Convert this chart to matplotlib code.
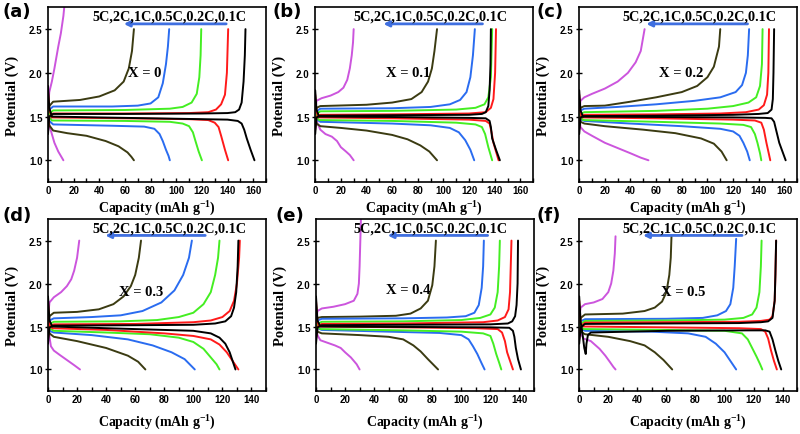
import matplotlib
matplotlib.use("Agg")
import matplotlib.pyplot as plt
from matplotlib.ticker import MultipleLocator

plt.rcParams["mathtext.fontset"] = "custom"
plt.rcParams["mathtext.rm"] = "Liberation Serif:bold"
plt.rcParams["mathtext.bf"] = "Liberation Serif:bold"

# C-rates, one curve pair per rate (order: 0.1C, 0.2C, 0.5C, 1C, 2C, 5C)
rates = ["0.1C", "0.2C", "0.5C", "1C", "2C", "5C"]
rate_text = "5C,2C,1C,0.5C,0.2C,0.1C"
x_values = ["X = 0", "X = 0.1", "X = 0.2", "X = 0.3", "X = 0.4", "X = 0.5"]
panel_tags = ["(a)", "(b)", "(c)", "(d)", "(e)", "(f)"]

# (capacity mAh/g, potential V) points
chg_a = [
    [(0, 1.30), (1, 1.50), (4, 1.53), (60, 1.53), (120, 1.535), (140, 1.54), (146, 1.55), (149, 1.58), (151, 1.66), (152.5, 1.9), (153.5, 2.2), (154, 2.5)],
    [(0, 1.35), (1, 1.50), (4, 1.535), (60, 1.535), (110, 1.54), (125, 1.55), (131, 1.58), (135, 1.64), (138, 1.75), (139.5, 2.0), (140.5, 2.5)],
    [(0, 1.40), (1, 1.53), (4, 1.57), (60, 1.575), (95, 1.59), (105, 1.61), (112, 1.66), (116, 1.76), (118, 1.95), (119, 2.2), (119.5, 2.5)],
    [(0, 1.45), (1, 1.58), (4, 1.615), (50, 1.615), (70, 1.625), (80, 1.65), (86, 1.72), (89.5, 1.88), (92, 2.1), (93.5, 2.3), (94.5, 2.5)],
    [(0, 1.50), (1, 1.62), (4, 1.67), (25, 1.69), (40, 1.73), (52, 1.80), (59, 1.9), (63, 2.05), (65.5, 2.25), (67, 2.5)],
    [(0, 1.60), (1, 1.78), (3, 1.9), (5, 2.05), (8, 2.3), (10, 2.45), (12, 2.65), (13, 2.8)],
]
dis_a = [
    [(0, 1.85), (1, 1.6), (3, 1.50), (40, 1.49), (100, 1.475), (140, 1.465), (148, 1.45), (151, 1.42), (153, 1.35), (155, 1.25), (158, 1.12), (161, 1.0)],
    [(0, 1.80), (1, 1.58), (3, 1.49), (60, 1.48), (110, 1.47), (125, 1.46), (130, 1.43), (133, 1.38), (135, 1.28), (138, 1.12), (140.5, 1.0)],
    [(0, 1.75), (1, 1.5), (3, 1.455), (60, 1.45), (95, 1.44), (105, 1.42), (110, 1.39), (113, 1.32), (115, 1.22), (117.5, 1.1), (120, 1.0)],
    [(0, 1.70), (1, 1.45), (4, 1.41), (50, 1.395), (75, 1.385), (83, 1.36), (87, 1.30), (89.5, 1.22), (92, 1.12), (94, 1.05), (95, 1.0)],
    [(0, 1.65), (1, 1.40), (4, 1.34), (15, 1.31), (30, 1.28), (45, 1.22), (55, 1.16), (62, 1.09), (65, 1.04), (67, 1.0)],
    [(0, 1.55), (1, 1.40), (3, 1.30), (5, 1.20), (8, 1.10), (10, 1.05), (12, 1.0)],
]

chg_b = [
    [(0, 1.30), (1, 1.49), (4, 1.51), (60, 1.515), (120, 1.52), (130, 1.53), (133, 1.55), (135, 1.62), (136, 1.8), (136.7, 2.1), (137, 2.5)],
    [(0, 1.35), (1, 1.50), (4, 1.52), (60, 1.525), (120, 1.535), (133, 1.55), (137, 1.6), (139, 1.7), (140.3, 2.0), (141, 2.5)],
    [(0, 1.40), (1, 1.53), (4, 1.56), (60, 1.565), (110, 1.58), (125, 1.6), (132, 1.64), (135, 1.72), (137, 1.95), (138, 2.5)],
    [(0, 1.45), (1, 1.56), (4, 1.59), (60, 1.595), (90, 1.61), (105, 1.64), (113, 1.69), (118, 1.78), (121, 1.95), (123, 2.2), (124.5, 2.5)],
    [(0, 1.50), (1, 1.6), (4, 1.62), (40, 1.635), (60, 1.66), (75, 1.70), (83, 1.78), (88, 1.9), (91, 2.05), (93, 2.25), (95, 2.5)],
    [(0, 1.55), (1, 1.68), (5, 1.71), (12, 1.74), (18, 1.78), (22, 1.83), (25, 1.92), (27, 2.05), (28.5, 2.2), (29.5, 2.35), (30, 2.5)],
]
dis_b = [
    [(0, 1.80), (1, 1.58), (3, 1.5), (60, 1.495), (120, 1.485), (133, 1.48), (136, 1.45), (137, 1.38), (138, 1.25), (141, 1.12), (144, 1.0)],
    [(0, 1.75), (1, 1.55), (3, 1.49), (60, 1.48), (120, 1.465), (133, 1.45), (136, 1.42), (137.5, 1.32), (139, 1.2), (143, 1.0)],
    [(0, 1.70), (1, 1.5), (3, 1.46), (60, 1.45), (110, 1.43), (125, 1.41), (130, 1.38), (132.5, 1.3), (135, 1.15), (138, 1.0)],
    [(0, 1.65), (1, 1.47), (4, 1.44), (60, 1.42), (90, 1.40), (105, 1.37), (112, 1.32), (117, 1.23), (121, 1.12), (124, 1.0)],
    [(0, 1.60), (1, 1.42), (4, 1.39), (20, 1.37), (40, 1.34), (60, 1.29), (72, 1.24), (82, 1.17), (89, 1.10), (95, 1.0)],
    [(0, 1.60), (1, 1.45), (4, 1.35), (8, 1.30), (13, 1.27), (17, 1.22), (20, 1.15), (24, 1.10), (27, 1.06), (30, 1.0)],
]

chg_c = [
    [(0, 1.30), (1, 1.49), (4, 1.505), (60, 1.51), (120, 1.52), (140, 1.53), (147, 1.54), (150, 1.58), (151, 1.7), (151.5, 2.0), (152, 2.5)],
    [(0, 1.35), (1, 1.5), (4, 1.52), (60, 1.525), (110, 1.535), (130, 1.55), (140, 1.58), (144, 1.63), (146.5, 1.75), (147.5, 2.0), (148, 2.5)],
    [(0, 1.40), (1, 1.53), (4, 1.55), (60, 1.565), (100, 1.59), (120, 1.62), (132, 1.66), (138, 1.72), (141, 1.85), (142.5, 2.1), (143, 2.5)],
    [(0, 1.45), (1, 1.57), (4, 1.59), (30, 1.61), (60, 1.64), (90, 1.68), (110, 1.72), (122, 1.78), (127, 1.86), (130, 2.0), (131.5, 2.2), (132.5, 2.5)],
    [(0, 1.50), (1, 1.6), (4, 1.62), (20, 1.625), (40, 1.67), (60, 1.72), (80, 1.78), (92, 1.85), (100, 1.95), (105, 2.07), (109, 2.3), (110, 2.5)],
    [(0, 1.55), (1, 1.68), (4, 1.72), (10, 1.76), (20, 1.82), (30, 1.90), (38, 2.0), (44, 2.12), (48, 2.25), (51, 2.5)],
]
dis_c = [
    [(0, 1.80), (1, 1.57), (3, 1.5), (60, 1.495), (120, 1.49), (145, 1.485), (150, 1.48), (152, 1.44), (154, 1.32), (156, 1.2), (158.5, 1.1), (161, 1.0)],
    [(0, 1.75), (1, 1.53), (3, 1.49), (60, 1.48), (120, 1.465), (137, 1.455), (142, 1.43), (144, 1.35), (146, 1.2), (147.5, 1.1), (149, 1.0)],
    [(0, 1.70), (1, 1.5), (3, 1.46), (60, 1.44), (110, 1.42), (128, 1.405), (134, 1.38), (137, 1.30), (139, 1.2), (141, 1.08), (142, 1.0)],
    [(0, 1.65), (1, 1.47), (4, 1.45), (40, 1.42), (80, 1.39), (110, 1.36), (120, 1.33), (125, 1.28), (128, 1.2), (131, 1.1), (133, 1.0)],
    [(0, 1.60), (1, 1.44), (4, 1.42), (20, 1.39), (50, 1.35), (75, 1.31), (95, 1.25), (105, 1.19), (111, 1.1), (115, 1.0)],
    [(0, 1.50), (1, 1.38), (4, 1.33), (10, 1.28), (20, 1.20), (30, 1.14), (40, 1.08), (48, 1.03), (54, 1.0)],
]

chg_d = [
    [(0, 1.30), (1, 1.49), (4, 1.51), (60, 1.515), (100, 1.52), (115, 1.535), (122, 1.56), (126, 1.62), (128, 1.72), (129.5, 1.9), (130.5, 2.2), (131, 2.5)],
    [(0, 1.35), (1, 1.5), (4, 1.525), (60, 1.53), (100, 1.55), (112, 1.57), (120, 1.61), (125, 1.68), (128, 1.8), (130, 2.0), (131.5, 2.3), (132, 2.5)],
    [(0, 1.40), (1, 1.53), (4, 1.555), (50, 1.56), (75, 1.575), (90, 1.61), (100, 1.66), (107, 1.76), (112, 1.9), (115, 2.1), (117, 2.3), (118, 2.5)],
    [(0, 1.45), (1, 1.57), (4, 1.595), (30, 1.61), (50, 1.63), (65, 1.68), (78, 1.78), (87, 1.92), (93, 2.1), (97, 2.3), (99, 2.5)],
    [(0, 1.50), (1, 1.62), (4, 1.66), (20, 1.67), (35, 1.7), (45, 1.76), (52, 1.85), (57, 1.97), (60, 2.1), (62.5, 2.3), (64, 2.5)],
    [(0, 1.60), (1, 1.78), (4, 1.84), (9, 1.9), (13, 1.97), (16, 2.05), (18, 2.15), (20, 2.3), (21.5, 2.5)],
]
dis_d = [
    [(0, 1.85), (1, 1.57), (3, 1.5), (40, 1.48), (80, 1.46), (100, 1.45), (112, 1.42), (118, 1.37), (122, 1.3), (125, 1.2), (127, 1.1), (129, 1.0)],
    [(0, 1.80), (1, 1.52), (3, 1.48), (40, 1.46), (80, 1.42), (100, 1.39), (112, 1.35), (118, 1.29), (123, 1.2), (127, 1.1), (131, 1.0)],
    [(0, 1.75), (1, 1.48), (4, 1.45), (40, 1.43), (70, 1.41), (90, 1.37), (100, 1.32), (107, 1.24), (112, 1.14), (116, 1.06), (118, 1.0)],
    [(0, 1.70), (1, 1.45), (4, 1.43), (30, 1.40), (55, 1.35), (72, 1.28), (85, 1.2), (94, 1.12), (101, 1.0)],
    [(0, 1.65), (1, 1.42), (4, 1.38), (20, 1.33), (40, 1.25), (55, 1.16), (62, 1.09), (67, 1.0)],
    [(0, 1.60), (1, 1.38), (2, 1.27), (4, 1.22), (8, 1.17), (13, 1.11), (18, 1.05), (22, 1.0)],
]

chg_e = [
    [(0, 1.30), (1, 1.49), (4, 1.515), (60, 1.52), (120, 1.525), (132, 1.535), (135, 1.56), (137, 1.62), (138, 1.75), (138.7, 2.0), (139, 2.5)],
    [(0, 1.35), (1, 1.5), (4, 1.53), (60, 1.535), (115, 1.55), (125, 1.57), (130, 1.61), (132.5, 1.7), (133.5, 1.9), (134, 2.2), (134.5, 2.5)],
    [(0, 1.40), (1, 1.53), (4, 1.555), (60, 1.56), (100, 1.575), (113, 1.6), (120, 1.64), (123, 1.72), (125, 1.9), (126, 2.2), (126.5, 2.5)],
    [(0, 1.45), (1, 1.57), (4, 1.59), (60, 1.595), (90, 1.605), (103, 1.62), (109, 1.66), (112, 1.75), (114, 1.95), (115, 2.2), (115.5, 2.5)],
    [(0, 1.50), (1, 1.6), (4, 1.61), (30, 1.615), (55, 1.625), (65, 1.65), (72, 1.71), (77, 1.8), (80, 1.98), (81.5, 2.2), (82.5, 2.5)],
    [(0, 1.55), (1, 1.68), (4, 1.71), (12, 1.73), (20, 1.76), (26, 1.80), (28.5, 1.88), (29.5, 2.0), (30, 2.2), (30.5, 2.5), (31, 2.8)],
]
dis_e = [
    [(0, 1.85), (1, 1.57), (3, 1.5), (60, 1.495), (120, 1.49), (133, 1.485), (135.5, 1.45), (136.5, 1.38), (137.5, 1.25), (139, 1.12), (141, 1.0)],
    [(0, 1.80), (1, 1.54), (3, 1.5), (60, 1.49), (110, 1.48), (125, 1.47), (128, 1.43), (130, 1.33), (131.5, 1.2), (133.5, 1.1), (135.5, 1.0)],
    [(0, 1.75), (1, 1.5), (3, 1.47), (60, 1.455), (100, 1.44), (115, 1.42), (120, 1.39), (122, 1.3), (124, 1.18), (126, 1.08), (127.5, 1.0)],
    [(0, 1.70), (1, 1.48), (4, 1.46), (50, 1.44), (85, 1.425), (100, 1.40), (105, 1.35), (108, 1.27), (111, 1.18), (114, 1.07), (116, 1.0)],
    [(0, 1.60), (1, 1.44), (4, 1.42), (30, 1.40), (50, 1.38), (60, 1.35), (67, 1.28), (72, 1.21), (77, 1.12), (84, 1.0)],
    [(0, 1.55), (1, 1.40), (3, 1.34), (8, 1.31), (13, 1.28), (17, 1.25), (20, 1.2), (24, 1.14), (28, 1.06), (30, 1.0)],
]

chg_f = [
    [(0, 1.30), (1, 1.49), (4, 1.53), (60, 1.535), (110, 1.54), (125, 1.55), (130, 1.56), (133, 1.6), (134.5, 1.8), (135, 2.1), (135.5, 2.5)],
    [(0, 1.35), (1, 1.5), (4, 1.545), (60, 1.55), (110, 1.555), (125, 1.565), (131, 1.58), (133, 1.62), (134.5, 1.8), (135, 2.1), (135.5, 2.5)],
    [(0, 1.40), (1, 1.53), (4, 1.565), (60, 1.57), (100, 1.58), (113, 1.6), (119, 1.64), (122, 1.72), (124, 1.9), (125, 2.2), (125.5, 2.5)],
    [(0, 1.45), (1, 1.56), (4, 1.585), (60, 1.59), (85, 1.60), (95, 1.63), (101, 1.68), (104, 1.76), (106, 1.95), (107, 2.2), (108, 2.52)],
    [(0, 1.50), (1, 1.6), (4, 1.64), (30, 1.65), (45, 1.68), (52, 1.72), (57, 1.79), (60, 1.9), (62, 2.1), (63, 2.3), (63.5, 2.55)],
    [(0, 1.60), (1, 1.72), (4, 1.76), (10, 1.78), (16, 1.82), (20, 1.9), (22, 2.0), (23.5, 2.15), (24.5, 2.35), (25, 2.55)],
]
dis_f = [
    [(0, 1.85), (1, 1.55), (2, 1.45), (3.5, 1.25), (4.5, 1.18), (5, 1.3), (6, 1.40), (8, 1.43), (60, 1.45), (115, 1.455), (128, 1.455), (131, 1.44), (133, 1.35), (135, 1.22), (137, 1.1), (139, 1.0)],
    [(0, 1.80), (1, 1.53), (3, 1.5), (60, 1.49), (110, 1.48), (125, 1.47), (128, 1.44), (130, 1.36), (132, 1.22), (134, 1.1), (136, 1.0)],
    [(0, 1.75), (1, 1.5), (3, 1.47), (60, 1.46), (100, 1.45), (112, 1.42), (116, 1.35), (119, 1.25), (122, 1.15), (124.5, 1.06), (126, 1.0)],
    [(0, 1.70), (1, 1.48), (4, 1.45), (50, 1.44), (75, 1.42), (87, 1.38), (94, 1.3), (100, 1.2), (104, 1.1), (108, 1.0)],
    [(0, 1.60), (1, 1.44), (4, 1.41), (20, 1.38), (35, 1.33), (45, 1.28), (52, 1.2), (58, 1.11), (64, 1.0)],
    [(0, 1.55), (1, 1.42), (3, 1.36), (8, 1.33), (14, 1.24), (18, 1.16), (21, 1.09), (23.5, 1.03), (25, 1.0)],
]

# colours per rate (0.1C ... 5C)
colors = ["#000000", "#ff1a1a", "#44ee22", "#2a6cf0", "#3b3b12", "#cc55dd"]
arrow_blue = "#3f6fe0"
serif = ["Liberation Serif", "DejaVu Serif"]

fig = plt.figure(figsize=(8, 4.35), dpi=100)

# axes boxes in figure fraction: left, bottom, width, height
boxes = [
    (0.060, 0.579, 0.2725, 0.402),
    (0.394, 0.579, 0.2725, 0.402),
    (0.724, 0.579, 0.2725, 0.402),
    (0.060, 0.099, 0.2725, 0.395),
    (0.395, 0.099, 0.2725, 0.395),
    (0.724, 0.099, 0.2725, 0.395),
]
charges = [chg_a, chg_b, chg_c, chg_d, chg_e, chg_f]
discharges = [dis_a, dis_b, dis_c, dis_d, dis_e, dis_f]
xmax = [170, 170, 170, 150, 150, 150]
# where the "X = .." label sits (data coords)
x_label_pos = [(62, 2.0), (55, 2.0), (62, 2.0), (49, 1.91), (48, 1.93), (56, 1.91)]
# rate text left edge and arrow (tail, head) in axes fraction
rate_text_x = [0.206, 0.174, 0.200, 0.206, 0.170, 0.200]
arrow_span = [(0.83, 0.335), (0.78, 0.30), (0.785, 0.295), (0.734, 0.25), (0.80, 0.316), (0.76, 0.28)]
tag_pos = [(0.003, 0.992), (0.341, 0.992), (0.671, 0.992), (0.003, 0.525), (0.344, 0.525), (0.671, 0.525)]

for i in range(6):
    ax = fig.add_axes(boxes[i])
    # draw 5C first so the 0.1C curve ends up on top
    for k in range(5, -1, -1):
        for pts in (charges[i][k], discharges[i][k]):
            cap = [p[0] for p in pts]
            volt = [p[1] for p in pts]
            ax.plot(cap, volt, color=colors[k], lw=1.4, solid_capstyle="round")

    ax.set_xlim(0, xmax[i])
    ax.set_ylim(0.75, 2.75)
    ax.xaxis.set_major_locator(MultipleLocator(20))
    ax.xaxis.set_minor_locator(MultipleLocator(10))
    ax.yaxis.set_major_locator(MultipleLocator(0.5))
    ax.tick_params(axis="x", which="both", direction="in", length=3, width=1, pad=2)
    ax.tick_params(axis="y", which="major", direction="inout", length=4, width=1, pad=2)
    for lbl in ax.get_xticklabels() + ax.get_yticklabels():
        lbl.set_fontfamily("Liberation Sans")
        lbl.set_fontweight("bold")
        lbl.set_fontsize(7)
    for sp in ax.spines.values():
        sp.set_linewidth(1.2)

    ax.set_xlabel("Capacity (mAh g$^{-1}$)", family=serif, fontweight="bold", fontsize=10)
    ax.set_ylabel("Potential (V)", family=serif, fontweight="bold", fontsize=10.5)
    ax.yaxis.set_label_coords(-0.135, 0.5)
    ax.xaxis.set_label_coords(0.5, -0.085 if i < 3 else -0.115)

    ax.text(x_label_pos[i][0], x_label_pos[i][1], x_values[i], family=serif,
            fontweight="bold", fontsize=10.5, va="center", ha="left")

    ax.annotate("", xy=(arrow_span[i][1], 0.905), xytext=(arrow_span[i][0], 0.905),
                xycoords="axes fraction",
                arrowprops=dict(arrowstyle="-|>", color=arrow_blue, lw=2, mutation_scale=8))
    ax.text(rate_text_x[i], 0.95, rate_text, transform=ax.transAxes, family=serif,
            fontweight="bold", fontsize=10.3, va="center", ha="left")

    fig.text(tag_pos[i][0], tag_pos[i][1], panel_tags[i], fontsize=13,
             fontweight="bold", va="top", ha="left")

fig.savefig("out.png", dpi=100)
